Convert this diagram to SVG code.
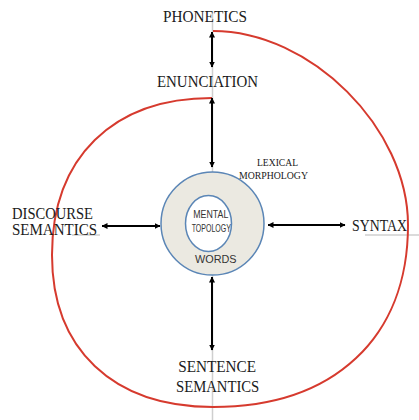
<svg xmlns="http://www.w3.org/2000/svg" width="419" height="420" viewBox="0 0 419 420">
<style>
.guide{stroke:#cfcfcf;stroke-width:1.5;fill:none}
.spiral{stroke:#d63a2e;stroke-width:2;fill:none}
.arrow{stroke:#000;stroke-width:2;fill:none;marker-start:url(#ah);marker-end:url(#ah)}
.lbl{font-family:"Liberation Serif","Times New Roman",serif;font-size:16px;fill:#1a1a1a}
.small{font-size:11px}
.inner{font-family:"Liberation Sans",Arial,sans-serif;font-size:10.5px;fill:#333}
</style>
<defs>
<marker id="ah" viewBox="0 0 6 6" refX="5.5" refY="3" markerWidth="6" markerHeight="6" markerUnits="userSpaceOnUse" orient="auto-start-reverse">
<path d="M0,0 L6,3 L0,6 z" fill="#000"/>
</marker>
</defs>
<g id="guides">
<line class="guide" x1="212.5" y1="12" x2="212.5" y2="420"/>
<line class="guide" x1="72" y1="235" x2="100" y2="235"/>
<line class="guide" x1="365" y1="235" x2="419" y2="235"/>
</g>
<g id="spiral">
<path class="spiral" d="M213,31 C310.5,31 408,128 408,225 C408,337.8 334,407 213,407 C112.8,407 52,349 52,255 C52,157.7 112.8,98 212,98"/>
</g>
<g id="core">
<circle cx="212.5" cy="223.5" r="51.5" fill="#ebe9e1" stroke="#5b86b6" stroke-width="1.5"/>
<ellipse cx="208.5" cy="223.5" rx="23" ry="28" fill="#fff" stroke="#5b86b6" stroke-width="1.5"/>
<text class="inner" x="193.3" y="217.5" textLength="35" lengthAdjust="spacingAndGlyphs">MENTAL</text>
<text class="inner" x="191.7" y="231.7" textLength="39.3" lengthAdjust="spacingAndGlyphs">TOPOLOGY</text>
<text class="inner" x="195" y="262.7" style="font-size:11px" textLength="41.5" lengthAdjust="spacingAndGlyphs">WORDS</text>
</g>
<g id="connectors">
<line class="arrow" x1="212" y1="32" x2="212" y2="67"/>
<line class="arrow" x1="212" y1="98" x2="212" y2="167"/>
<line class="arrow" x1="212" y1="277" x2="212" y2="350"/>
<line class="arrow" x1="102" y1="226" x2="160" y2="226"/>
<line class="arrow" x1="268" y1="225" x2="345" y2="225"/>
</g>
<g id="phonetics"><text class="lbl" x="163" y="22" textLength="84" lengthAdjust="spacingAndGlyphs">PHONETICS</text></g>
<g id="enunciation"><text class="lbl" x="157" y="87" textLength="101" lengthAdjust="spacingAndGlyphs">ENUNCIATION</text></g>
<g id="lexical-morphology">
<text class="lbl small" x="257" y="165.7" textLength="41" lengthAdjust="spacingAndGlyphs">LEXICAL</text>
<text class="lbl small" x="239" y="179" textLength="69" lengthAdjust="spacingAndGlyphs">MORPHOLOGY</text>
</g>
<g id="discourse-semantics">
<text class="lbl" x="12" y="219" textLength="81" lengthAdjust="spacingAndGlyphs">DISCOURSE</text>
<text class="lbl" x="12" y="235" textLength="85" lengthAdjust="spacingAndGlyphs">SEMANTICS</text>
</g>
<g id="syntax"><text class="lbl" x="352" y="231" style="font-size:17px" textLength="55" lengthAdjust="spacingAndGlyphs">SYNTAX</text></g>
<g id="sentence-semantics">
<text class="lbl" x="178.3" y="372.3" textLength="77.7" lengthAdjust="spacingAndGlyphs">SENTENCE</text>
<text class="lbl" x="176" y="391.7" textLength="83.3" lengthAdjust="spacingAndGlyphs">SEMANTICS</text>
</g>
</svg>
